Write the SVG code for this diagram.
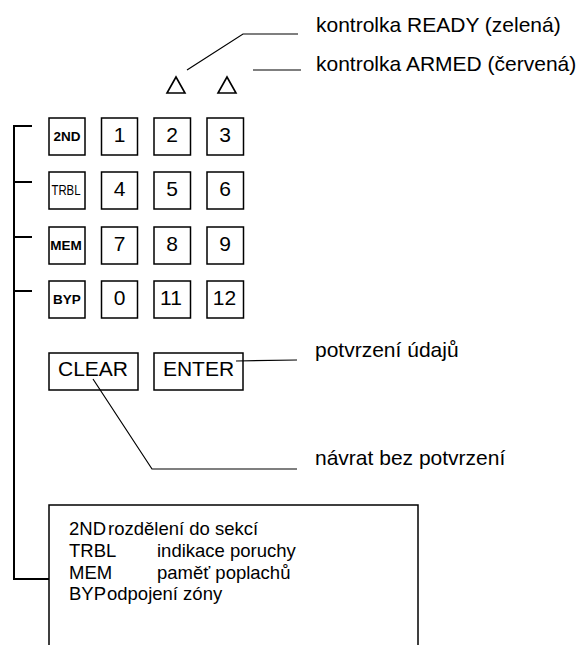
<svg xmlns="http://www.w3.org/2000/svg" width="584" height="645" viewBox="0 0 584 645">
<style>
.key{fill:#fff;stroke:#000;stroke-width:1.5}
.t{font-family:"Liberation Sans",Arial,sans-serif;fill:#000}
.d{font-size:21px;text-anchor:middle}
.s{font-size:13.5px;font-weight:bold;text-anchor:middle}
.lab{font-size:21px}
.box{font-size:18.5px}
.ln{fill:none;stroke:#000;stroke-width:1.2}
.br{fill:none;stroke:#000;stroke-width:2}
.led{fill:#fff;stroke:#000;stroke-width:1.6}
</style>
<rect width="584" height="645" fill="#fff"/>
<g id="led-ready"><polygon class="led" points="167,93 176,77 185,93"/></g>
<g id="led-armed"><polygon class="led" points="218,93 227,77 236,93"/></g>
<g id="k-2nd"><rect class="key" x="49" y="118" width="36" height="37"/><text class="t s" x="67" y="140.5">2ND</text></g>
<g id="k-1"><rect class="key" x="101.5" y="118" width="36" height="37"/><text class="t d" x="119.5" y="141.5">1</text></g>
<g id="k-2"><rect class="key" x="154" y="118" width="36.5" height="37"/><text class="t d" x="172" y="141.5">2</text></g>
<g id="k-3"><rect class="key" x="207" y="118" width="36.5" height="37"/><text class="t d" x="225" y="141.5">3</text></g>
<g id="k-trbl"><rect class="key" x="49" y="172" width="36" height="37"/><text class="t" x="51.5" y="195" font-size="14" textLength="29" lengthAdjust="spacingAndGlyphs">TRBL</text></g>
<g id="k-4"><rect class="key" x="101.5" y="172" width="36" height="37"/><text class="t d" x="119.5" y="195.5">4</text></g>
<g id="k-5"><rect class="key" x="154" y="172" width="36.5" height="37"/><text class="t d" x="172" y="195.5">5</text></g>
<g id="k-6"><rect class="key" x="207" y="172" width="36.5" height="37"/><text class="t d" x="225" y="195.5">6</text></g>
<g id="k-mem"><rect class="key" x="49" y="227" width="36" height="37"/><text class="t s" x="66" y="250" font-size="13">MEM</text></g>
<g id="k-7"><rect class="key" x="101.5" y="227" width="36" height="37"/><text class="t d" x="119.5" y="250.5">7</text></g>
<g id="k-8"><rect class="key" x="154" y="227" width="36.5" height="37"/><text class="t d" x="172" y="250.5">8</text></g>
<g id="k-9"><rect class="key" x="207" y="227" width="36.5" height="37"/><text class="t d" x="225" y="250.5">9</text></g>
<g id="k-byp"><rect class="key" x="49" y="281" width="36" height="37"/><text class="t s" x="67" y="304" font-size="13">BYP</text></g>
<g id="k-0"><rect class="key" x="101.5" y="281" width="36" height="37"/><text class="t d" x="119.5" y="304.5">0</text></g>
<g id="k-11"><rect class="key" x="154" y="281" width="36.5" height="37"/><text class="t d" x="171" y="304.5">11</text></g>
<g id="k-12"><rect class="key" x="207" y="281" width="36.5" height="37"/><text class="t d" x="224.5" y="304.5">12</text></g>
<g id="k-clear"><rect class="key" x="49" y="353" width="89" height="37"/><text class="t d" x="93" y="376">CLEAR</text></g>
<g id="k-enter"><rect class="key" x="154" y="353" width="89" height="37"/><text class="t d" x="198.5" y="376">ENTER</text></g>
<g id="legend">
<rect class="key" x="49" y="505" width="369" height="160"/>
<text class="t box" x="69" y="535">2ND</text><text class="t box" x="108" y="535">rozdělení do sekcí</text>
<text class="t box" x="69" y="557">TRBL</text><text class="t box" x="157" y="557">indikace poruchy</text>
<text class="t box" x="69" y="578.5">MEM</text><text class="t box" x="157" y="578.5">paměť poplachů</text>
<text class="t box" x="69" y="600">BYP</text><text class="t box" x="107" y="600">odpojení zóny</text>
</g>
<g id="lbl-ready"><text class="t lab" x="316" y="32">kontrolka READY (zelená)</text></g>
<g id="lbl-armed"><text class="t lab" x="316" y="71">kontrolka ARMED (červená)</text></g>
<g id="lbl-enter"><text class="t lab" x="315" y="357">potvrzení údajů</text></g>
<g id="lbl-clear"><text class="t lab" x="315" y="465">návrat bez potvrzení</text></g>
<g id="connectors">
<polyline class="ln" points="187,70 243,34 298,34"/>
<line class="ln" x1="253" y1="70" x2="301" y2="70"/>
<line class="ln" x1="236" y1="361" x2="297" y2="360"/>
<polyline class="ln" points="93,379 152,469 297,469"/>
<polyline class="br" points="32,126 14,126 14,579 49,579"/>
<line class="br" x1="14" y1="182" x2="32" y2="182"/>
<line class="br" x1="14" y1="237" x2="32" y2="237"/>
<line class="br" x1="14" y1="291" x2="32" y2="291"/>
</g>
</svg>
